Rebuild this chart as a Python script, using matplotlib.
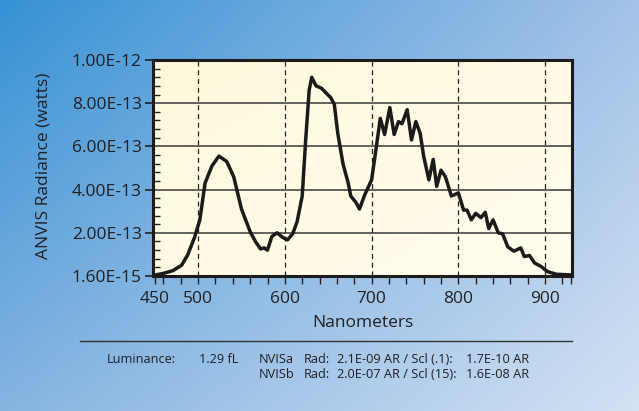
import numpy as np
import matplotlib
matplotlib.use("Agg")
import matplotlib.pyplot as plt
from matplotlib.colors import to_rgb
from matplotlib.ticker import FixedLocator, MultipleLocator

# spectrum (nm, watts)
wavelength = [451, 460, 471, 481, 488, 496, 502, 508, 516, 524, 533, 541, 550, 560,
              566, 572, 576, 580, 585, 591, 597, 603, 609, 614, 620, 624, 628, 631,
              636, 642, 653, 657, 661, 667, 673, 676, 682, 686, 692, 700, 705, 710,
              715, 721, 726, 731, 735, 741, 746, 751, 756, 760, 766, 771, 775, 780,
              785, 792, 800, 806, 810, 815, 820, 826, 831, 835, 840, 846, 851, 857,
              864, 872, 876, 882, 888, 895, 903, 913, 930]
radiance = [0.005, 0.012, 0.025, 0.05, 0.098, 0.18, 0.26, 0.43, 0.51, 0.555, 0.53,
            0.46, 0.31, 0.205, 0.16, 0.125, 0.13, 0.12, 0.183, 0.2, 0.18, 0.167,
            0.195, 0.25, 0.37, 0.63, 0.86, 0.92, 0.88, 0.87, 0.825, 0.795, 0.66,
            0.52, 0.43, 0.37, 0.34, 0.31, 0.375, 0.445, 0.585, 0.73, 0.655, 0.78,
            0.655, 0.715, 0.705, 0.77, 0.63, 0.715, 0.66, 0.555, 0.445, 0.54, 0.415,
            0.49, 0.46, 0.37, 0.385, 0.305, 0.305, 0.26, 0.29, 0.27, 0.295, 0.22,
            0.26, 0.2, 0.195, 0.135, 0.115, 0.13, 0.09, 0.095, 0.06, 0.045, 0.02,
            0.008, 0.005]
radiance = [r * 1e-12 for r in radiance]

y_ticks = [1.6e-15, 2e-13, 4e-13, 6e-13, 8e-13, 1e-12]
y_labels = ["1.60E-15", "2.00E-13", "4.00E-13", "6.00E-13", "8.00E-13", "1.00E-12"]
x_ticks = [450, 500, 600, 700, 800, 900]
dashed_x = [500, 600, 700, 800, 900]
grid_y = [2e-13, 4e-13, 6e-13, 8e-13]

info_row1 = ["Luminance:", "1.29 fL", "NVISa", "Rad:", "2.1E-09 AR / Scl (.1):", "1.7E-10 AR"]
info_row2 = ["", "", "NVISb", "Rad:", "2.0E-07 AR / Scl (15):", "1.6E-08 AR"]

W, H = 639, 411
TXT = "#231f20"
plt.rcParams["font.family"] = ["Open Sans", "DejaVu Sans"]


def corner_gradient(tl, tr, bl, br, n=200):
    tl, tr, bl, br = (np.array(to_rgb(c)) for c in (tl, tr, bl, br))
    u = np.linspace(0, 1, n)[None, :, None]
    v = np.linspace(0, 1, n)[:, None, None]
    top = tl * (1 - u) + tr * u
    bot = bl * (1 - u) + br * u
    return top * (1 - v) + bot * v


fig = plt.figure(figsize=(W / 100, H / 100), dpi=100)

bg = fig.add_axes([0, 0, 1, 1], zorder=-10)
bg.imshow(corner_gradient("#3592d5", "#a3c2e7", "#86b4e1", "#d3e2f4"),
          aspect="auto", extent=(0, 1, 0, 1), interpolation="bilinear")
bg.set_axis_off()

L, R, T, B = 153, 572, 60, 276
ax = fig.add_axes([L / W, 1 - B / H, (R - L) / W, (B - T) / H])
xlim = (448, 931)
ylim = (0, 1e-12)
ax.imshow(corner_gradient("#fff9dd", "#fffbe4", "#fffbe4", "#fffdee"),
          aspect="auto", extent=(*xlim, *ylim), interpolation="bilinear", zorder=0)

for g in grid_y:
    ax.axhline(g, color="#555555", lw=1.3, zorder=1)
for d in dashed_x:
    ax.axvline(d, color="#222222", lw=0.9, ls=(0, (4, 3)), zorder=1)

ax.plot(wavelength, radiance, color="#1c1a1b", lw=2.5, solid_joinstyle="round", zorder=3)

ax.set_xlim(*xlim)
ax.set_ylim(*ylim)

ax.set_yticks(y_ticks)
ax.set_yticklabels(y_labels)
ax.yaxis.set_minor_locator(MultipleLocator(4e-14))
ax.set_xticks(x_ticks)
ax.xaxis.set_minor_locator(FixedLocator(list(range(460, 931, 20)) + [930]))

ax.tick_params(axis="y", which="major", direction="out", length=6, width=1.2,
               labelsize=12.5, colors=TXT, pad=2)
ax.tick_params(axis="y", which="minor", direction="in", length=5, width=1.0, colors=TXT)
ax.tick_params(axis="x", which="both", direction="out", length=6, width=1.0,
               labelsize=12.5, colors=TXT, pad=5)

for s in ax.spines.values():
    s.set_linewidth(2.2)
    s.set_color("#1c1a1b")

fig.text(44 / W, 1 - 166 / H, "ANVIS Radiance (watts)", rotation=90,
         ha="center", va="center", fontsize=12.5, color=TXT)
fig.text(363 / W, 1 - 323 / H, "Nanometers", ha="center", va="center",
         fontsize=12.5, color=TXT)

fig.add_artist(plt.Line2D([80 / W, 572 / W], [1 - 341 / H, 1 - 341 / H],
                          color="#333333", lw=1.0))

col_x = [107, 199, 259, 304, 337, 466]
for row, yy in ((info_row1, 359), (info_row2, 374)):
    for txt, cx in zip(row, col_x):
        if txt:
            fig.text(cx / W, 1 - yy / H, txt, ha="left", va="center",
                     fontsize=9.2, color=TXT)

fig.savefig("out.png", dpi=100)
